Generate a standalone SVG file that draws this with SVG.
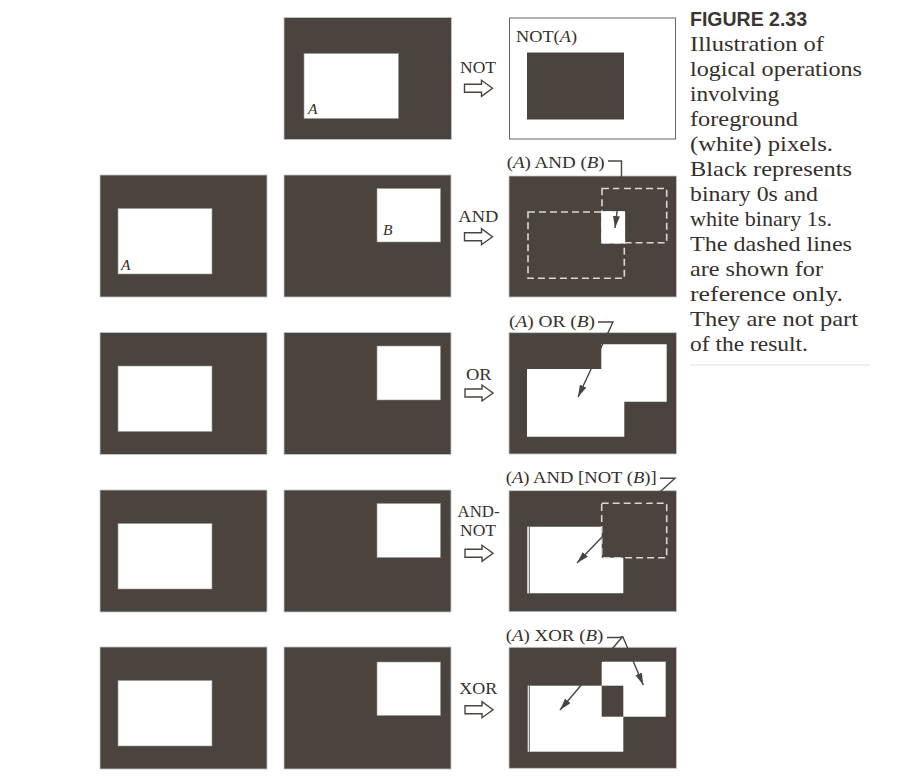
<svg xmlns="http://www.w3.org/2000/svg" xmlns:xlink="http://www.w3.org/1999/xlink" width="919" height="783" viewBox="0 0 919 783">
<style>
.bg{fill:#4b443e;stroke:#c8c6c2;stroke-width:0.8}
.wh{fill:#ffffff;stroke:#9a958f;stroke-width:0.6}
.whn{fill:#ffffff}
.dk{fill:#4b443e}
.ds{fill:none;stroke:#d9d7d3;stroke-width:1.6;stroke-dasharray:7 4}
.t{font-family:"Liberation Serif","Times New Roman",serif;fill:#35302b}
.lbl{font-size:17px}
.cap{font-size:21.5px}
.it{font-style:italic}
.ld{fill:none;stroke:#4b443e;stroke-width:1.4}
.ar{fill:none;stroke:#4b443e;stroke-width:1.4;marker-end:url(#ah)}
.fig{font-family:"Liberation Sans",Arial,sans-serif;font-weight:bold;font-size:20.5px;fill:#3b3632}
</style>
<defs>
<marker id="ah" markerUnits="userSpaceOnUse" markerWidth="13" markerHeight="8" refX="12" refY="3.5" orient="auto">
<path d="M0,0 L12,3.5 L0,7 Z" fill="#4b443e"/>
</marker>
<path id="op" d="M0,-4 H17 V-8 L28,0 L17,8 V4 H0 Z" fill="#ffffff" stroke="#4b443e" stroke-width="1.4" stroke-linejoin="miter"/>
</defs>
<rect width="919" height="783" fill="#ffffff"/>

<!-- Row 1: NOT -->
<g id="not-input">
<rect class="bg" x="284" y="17.5" width="167.5" height="122"/>
<rect class="wh" x="304" y="53.5" width="94.5" height="65"/>
<text class="t it" x="308" y="114" font-size="15.5">A</text>
</g>
<g id="not-result">
<rect x="509.5" y="18" width="166" height="121" fill="#ffffff" stroke="#6a645e" stroke-width="1"/>
<rect class="dk" x="527" y="52.5" width="97" height="67"/>
<text class="t lbl" x="516" y="41.7" textLength="61" lengthAdjust="spacingAndGlyphs">NOT(<tspan class="it">A</tspan>)</text>
</g>

<!-- Row 2: AND -->
<g id="and-a">
<rect class="bg" x="100" y="175" width="167" height="122"/>
<rect class="wh" x="118" y="208.5" width="94" height="65.5"/>
<text class="t it" x="121" y="270" font-size="15.5">A</text>
</g>
<g id="and-b">
<rect class="bg" x="284" y="175" width="167" height="122"/>
<rect class="wh" x="377" y="188.5" width="63.5" height="53.5"/>
<text class="t it" x="383" y="235" font-size="15.5">B</text>
</g>
<g id="and-result">
<rect class="bg" x="509" y="176" width="167.5" height="121"/>
<rect class="ds" x="528" y="212" width="96.3" height="66.3"/>
<rect class="ds" x="602" y="188.5" width="64.7" height="54.2"/>
<rect class="whn" x="601.2" y="211.2" width="23.9" height="32.3"/>
<text class="t lbl" x="506.7" y="168.3" textLength="98" lengthAdjust="spacingAndGlyphs">(<tspan class="it">A</tspan>) AND (<tspan class="it">B</tspan>)</text>
</g>

<!-- Row 3: OR -->
<g id="or-a">
<rect class="bg" x="100" y="332.5" width="167" height="122"/>
<rect class="wh" x="118" y="366" width="94" height="65.5"/>
</g>
<g id="or-b">
<rect class="bg" x="284" y="332.5" width="167" height="122"/>
<rect class="wh" x="377" y="346" width="63.5" height="54"/>
</g>
<g id="or-result">
<rect class="bg" x="509" y="332.7" width="167.5" height="121.3"/>
<path class="whn" d="M527,369 H601.3 V344.3 H666.7 V401.7 H624.3 V436.7 H527 Z"/>
<text class="t lbl" x="509" y="326.7" textLength="86" lengthAdjust="spacingAndGlyphs">(<tspan class="it">A</tspan>) OR (<tspan class="it">B</tspan>)</text>
</g>

<!-- Row 4: AND-NOT -->
<g id="andnot-a">
<rect class="bg" x="100" y="490" width="167" height="122"/>
<rect class="wh" x="118" y="523.5" width="94" height="65.5"/>
</g>
<g id="andnot-b">
<rect class="bg" x="284" y="490" width="167" height="122"/>
<rect class="wh" x="377" y="503.5" width="63.5" height="54"/>
</g>
<g id="andnot-result">
<rect class="bg" x="509" y="490.7" width="167.5" height="121"/>
<path class="whn" d="M527.3,526.7 H601.7 V557.7 H623.3 V593.3 H527.3 Z"/>
<line x1="529.3" y1="527" x2="529.3" y2="593" stroke="#4b443e" stroke-width="0.9"/>
<rect class="ds" x="601.7" y="503.3" width="65" height="54.4"/>
<text class="t lbl" x="505.7" y="483.3" textLength="151" lengthAdjust="spacingAndGlyphs">(<tspan class="it">A</tspan>) AND [NOT (<tspan class="it">B</tspan>)]</text>
</g>

<!-- Row 5: XOR -->
<g id="xor-a">
<rect class="bg" x="100" y="647" width="167" height="122"/>
<rect class="wh" x="118" y="680.5" width="94" height="65.5"/>
</g>
<g id="xor-b">
<rect class="bg" x="284" y="647" width="167" height="122"/>
<rect class="wh" x="377" y="662" width="63.5" height="53.5"/>
</g>
<g id="xor-result">
<rect class="bg" x="509" y="647.3" width="167.5" height="121"/>
<rect class="whn" x="527.7" y="685.7" width="95.6" height="66"/>
<rect class="whn" x="601.7" y="661.7" width="64" height="55"/>
<rect class="dk" x="601.7" y="685.7" width="21.6" height="31"/>
<line x1="529.3" y1="686" x2="529.3" y2="751.5" stroke="#4b443e" stroke-width="0.9"/>
<text class="t lbl" x="505.7" y="640.5" textLength="97.6" lengthAdjust="spacingAndGlyphs">(<tspan class="it">A</tspan>) XOR (<tspan class="it">B</tspan>)</text>
</g>

<!-- Operation labels -->
<g id="op-labels">
<text class="t lbl" x="460" y="73" textLength="36" lengthAdjust="spacingAndGlyphs">NOT</text>
<text class="t lbl" x="458.3" y="221.7" textLength="40" lengthAdjust="spacingAndGlyphs">AND</text>
<text class="t lbl" x="466" y="380" textLength="25.7" lengthAdjust="spacingAndGlyphs">OR</text>
<text class="t lbl" x="457.5" y="517.3" textLength="42" lengthAdjust="spacingAndGlyphs">AND-</text>
<text class="t lbl" x="460" y="536" textLength="36" lengthAdjust="spacingAndGlyphs">NOT</text>
<text class="t lbl" x="459.3" y="694" textLength="38" lengthAdjust="spacingAndGlyphs">XOR</text>
</g>

<!-- Connectors -->
<g id="connectors">
<use xlink:href="#op" href="#op" x="464.5" y="88.3"/>
<use xlink:href="#op" href="#op" x="464.5" y="236.7"/>
<use xlink:href="#op" href="#op" x="465" y="393"/>
<use xlink:href="#op" href="#op" x="465" y="553.3"/>
<use xlink:href="#op" href="#op" x="465" y="709.7"/>
<path class="ar" d="M608,161 H621.5 V176 L615,228"/>
<path class="ar" d="M598,322 H613 L578,397"/>
<path class="ar" d="M660,478.3 H675 L661,491 L604,535 L577,563"/>
<path class="ld" d="M607,637.5 H620 L622.7,636.5"/>
<path class="ar" d="M622.7,636.5 L560,710"/>
<path class="ar" d="M622.7,636.5 L643.3,685"/>
</g>

<!-- Caption -->
<g id="caption">
<text class="fig" x="690" y="25.7" textLength="117" lengthAdjust="spacingAndGlyphs">FIGURE 2.33</text>
<text class="t cap" x="690" y="51" textLength="134" lengthAdjust="spacingAndGlyphs">Illustration of</text>
<text class="t cap" x="690" y="76" textLength="172" lengthAdjust="spacingAndGlyphs">logical operations</text>
<text class="t cap" x="690" y="101" textLength="89" lengthAdjust="spacingAndGlyphs">involving</text>
<text class="t cap" x="690" y="126" textLength="108" lengthAdjust="spacingAndGlyphs">foreground</text>
<text class="t cap" x="690" y="151" textLength="143" lengthAdjust="spacingAndGlyphs">(white) pixels.</text>
<text class="t cap" x="690" y="176" textLength="162" lengthAdjust="spacingAndGlyphs">Black represents</text>
<text class="t cap" x="690" y="201" textLength="128" lengthAdjust="spacingAndGlyphs">binary 0s and</text>
<text class="t cap" x="690" y="226" textLength="142" lengthAdjust="spacingAndGlyphs">white binary 1s.</text>
<text class="t cap" x="690" y="251" textLength="162" lengthAdjust="spacingAndGlyphs">The dashed lines</text>
<text class="t cap" x="690" y="276" textLength="133" lengthAdjust="spacingAndGlyphs">are shown for</text>
<text class="t cap" x="690" y="301" textLength="153" lengthAdjust="spacingAndGlyphs">reference only.</text>
<text class="t cap" x="690" y="326" textLength="168" lengthAdjust="spacingAndGlyphs">They are not part</text>
<text class="t cap" x="690" y="351" textLength="118" lengthAdjust="spacingAndGlyphs">of the result.</text>
<line x1="690" y1="365" x2="870" y2="365" stroke="#e2e0dd" stroke-width="1.2"/>
</g>
</svg>
